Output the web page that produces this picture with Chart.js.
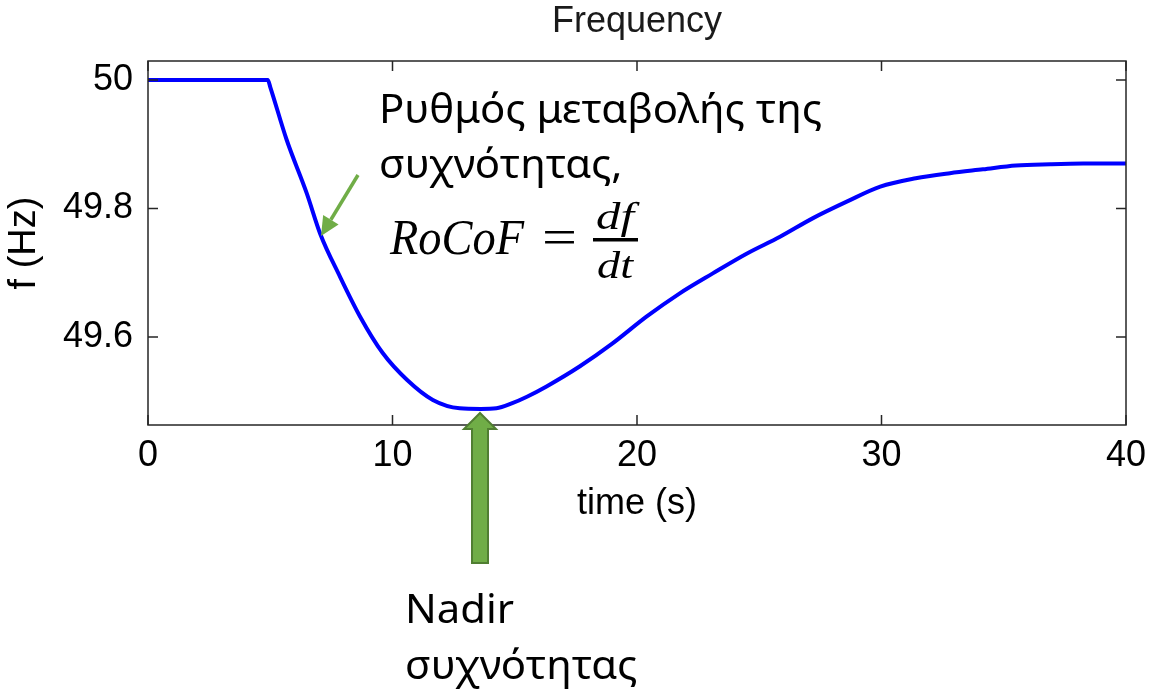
<!DOCTYPE html>
<html><head><meta charset="utf-8">
<script src="https://cdn.jsdelivr.net/npm/chart.js@4.4.1/dist/chart.umd.min.js"></script>
<style>html,body{margin:0;padding:0;background:#fff;overflow:hidden}#wrap{width:1150px;height:692px}</style>
</head><body><div id="wrap"><canvas id="c" width="1150" height="692"></canvas></div>
<script>
// ---- data ----
const timeSec = [0, 4.9, 5.0, 5.67, 6.49, 7.05, 7.85, 8.67, 9.6, 10.6, 11.65, 12.75, 13.6, 14.25, 14.9, 15.5, 16.3, 17.65, 19.0, 20.4, 21.75, 23.1, 24.5, 25.85, 27.2, 28.6, 29.95, 31.4, 32.8, 34.15, 35.5, 36.9, 38.25, 40];
const freqHz  = [50, 50, 49.989, 49.907, 49.824, 49.760, 49.694, 49.632, 49.575, 49.533, 49.502, 49.489, 49.488, 49.489, 49.497, 49.507, 49.523, 49.554, 49.590, 49.632, 49.668, 49.699, 49.730, 49.756, 49.785, 49.811, 49.834, 49.847, 49.855, 49.861, 49.867, 49.869, 49.870, 49.870];
const xTicks = [0, 10, 20, 30, 40];
const yTicks = [49.6, 49.8, 50];
const chartTitle = 'Frequency';
const xLabel = 'time (s)';
const yLabel = 'f (Hz)';
const rocofLines = ['Ρυθμός μεταβολής της', 'συχνότητας,'];
const rocofFormula = ['RoCoF', '=', 'df', 'dt'];
const nadirLines = ['Nadir', 'συχνότητας'];

const AX_FONT = '"Liberation Sans", Arial, sans-serif';
const GR_FONT = '"Noto Sans", "Open Sans", sans-serif';
const SERIF = '"Liberation Serif", "DejaVu Serif", serif';

function fitText(ctx, text, x, y, w, font, align) {
  ctx.save();
  ctx.font = font;
  const nat = ctx.measureText(text).width;
  const s = w ? w / nat : 1;
  ctx.translate(x, y);
  ctx.scale(s, 1);
  ctx.textAlign = align || 'left';
  ctx.textBaseline = 'alphabetic';
  ctx.fillText(text, 0, 0);
  ctx.restore();
}
function scaledText(ctx, text, x, y, s, font) {
  ctx.save();
  ctx.font = font;
  ctx.translate(x, y);
  ctx.scale(s, 1);
  ctx.textAlign = 'left';
  ctx.textBaseline = 'alphabetic';
  ctx.fillText(text, 0, 0);
  ctx.restore();
}

const framePlugin = {
  id: 'frame',
  afterDatasetsDraw(chart) {
    const {ctx, chartArea: a, scales} = chart;
    ctx.save();
    ctx.strokeStyle = '#262626';
    ctx.lineWidth = 1.5;
    ctx.strokeRect(a.left, a.top, a.right - a.left, a.bottom - a.top);
    ctx.beginPath();
    const L = 10;
    yTicks.forEach(v => {
      const y = scales.y.getPixelForValue(v);
      ctx.moveTo(a.left, y); ctx.lineTo(a.left + L, y);
      ctx.moveTo(a.right, y); ctx.lineTo(a.right - L, y);
    });
    xTicks.forEach(v => {
      const x = scales.x.getPixelForValue(v);
      ctx.moveTo(x, a.bottom); ctx.lineTo(x, a.bottom - L);
      ctx.moveTo(x, a.top); ctx.lineTo(x, a.top + L);
    });
    ctx.stroke();
    ctx.restore();
  },
  afterDraw(chart) {
    const ctx = chart.ctx;
    ctx.save();
    ctx.fillStyle = '#000';
    // Greek text, common horizontal scale
    const grFont = '40px ' + GR_FONT;
    ctx.font = grFont;
    const s = 443 / ctx.measureText(rocofLines[0]).width;
    scaledText(ctx, rocofLines[0], 379, 123, s, grFont);
    scaledText(ctx, rocofLines[1], 379, 178, s, grFont);
    scaledText(ctx, nadirLines[0], 405, 623, s, grFont);
    scaledText(ctx, nadirLines[1], 405, 679, s, grFont);
    // formula
    fitText(ctx, rocofFormula[0], 390, 254, 134, 'italic 50px ' + SERIF);
    fitText(ctx, rocofFormula[1], 542, 254, 35, '50px ' + SERIF);
    fitText(ctx, rocofFormula[2], 615, 229, 38, 'italic 38px ' + SERIF, 'center');
    fitText(ctx, rocofFormula[3], 615, 278, 36, 'italic 38px ' + SERIF, 'center');
    ctx.fillRect(593, 238, 45, 3.5);
    // small green arrow
    ctx.strokeStyle = '#70AD47';
    ctx.fillStyle = '#70AD47';
    ctx.lineWidth = 3.5;
    const x0 = 358, y0 = 175, x1 = 321, y1 = 236;
    const ang = Math.atan2(y1 - y0, x1 - x0);
    const hl = 19, hw = 9;
    const bx = x1 - hl * Math.cos(ang), by = y1 - hl * Math.sin(ang);
    ctx.beginPath(); ctx.moveTo(x0, y0); ctx.lineTo(bx, by); ctx.stroke();
    ctx.beginPath();
    ctx.moveTo(x1, y1);
    ctx.lineTo(bx + hw * Math.sin(ang), by - hw * Math.cos(ang));
    ctx.lineTo(bx - hw * Math.sin(ang), by + hw * Math.cos(ang));
    ctx.closePath(); ctx.fill();
    // nadir block arrow
    ctx.beginPath();
    ctx.moveTo(480, 413);
    ctx.lineTo(496, 429);
    ctx.lineTo(488, 429);
    ctx.lineTo(488, 563);
    ctx.lineTo(472, 563);
    ctx.lineTo(472, 429);
    ctx.lineTo(464, 429);
    ctx.closePath();
    ctx.fillStyle = '#70AD47';
    ctx.fill();
    ctx.strokeStyle = '#507E32';
    ctx.lineWidth = 2;
    ctx.stroke();
    ctx.restore();
  }
};

new Chart(document.getElementById('c'), {
  type: 'line',
  data: {
    datasets: [{
      data: timeSec.map((t, i) => ({x: t, y: freqHz[i]})),
      borderColor: '#0000ff',
      borderWidth: 4,
      pointRadius: 0,
      cubicInterpolationMode: 'monotone',
      fill: false
    }]
  },
  options: {
    responsive: false,
    animation: false,
    devicePixelRatio: 1,
    layout: {padding: {left: 0, right: 24, top: 0, bottom: 0}},
    plugins: {
      legend: {display: false},
      tooltip: {enabled: false},
      title: {
        display: true, text: chartTitle, fullSize: false,
        color: '#1a1a1a',
        font: {family: AX_FONT, size: 36, weight: 'normal', lineHeight: 1.2},
        padding: {top: 0, bottom: 17.8}
      }
    },
    scales: {
      x: {
        type: 'linear', min: 0, max: 40,
        afterBuildTicks: sc => { sc.ticks = xTicks.map(v => ({value: v})); },
        afterFit: sc => { sc.height = 267; sc.paddingLeft = 0; sc.paddingRight = 0; },
        grid: {display: false, drawTicks: false},
        border: {display: false},
        ticks: {color: '#000', padding: 9, maxRotation: 0, autoSkip: false,
          font: {family: AX_FONT, size: 36, lineHeight: 1.2}},
        title: {display: true, text: xLabel, color: '#000',
          font: {family: AX_FONT, size: 36, lineHeight: 1.2},
          padding: {top: 0, bottom: 166}}
      },
      y: {
        type: 'linear', min: 49.463, max: 50.0296,
        afterBuildTicks: sc => { sc.ticks = yTicks.map(v => ({value: v})); },
        afterFit: sc => { sc.width = 148; },
        grid: {display: false, drawTicks: false},
        border: {display: false},
        ticks: {color: '#000', padding: 15, autoSkip: false,
          font: {family: AX_FONT, size: 36, lineHeight: 1.2},
          callback: v => String(v)},
        title: {display: true, text: yLabel, color: '#000',
          font: {family: AX_FONT, size: 38, lineHeight: 1.2},
          padding: {top: 2, bottom: 0}}
      }
    }
  },
  plugins: [framePlugin]
});
</script></body></html>
